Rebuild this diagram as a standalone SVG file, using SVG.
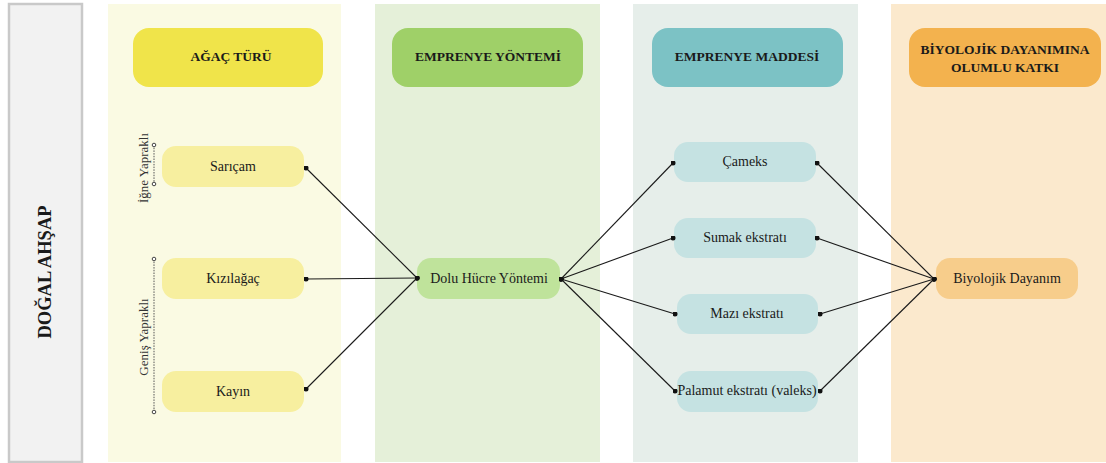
<svg xmlns="http://www.w3.org/2000/svg" width="1106" height="463" viewBox="0 0 1106 463">
  <style>
    .hdr { font-family: "Liberation Serif", "Times New Roman", "DejaVu Serif", serif; font-weight: bold; font-size: 13.5px; fill: #1a1a1a; text-anchor: middle; }
    .lbl { font-family: "Liberation Serif", "Times New Roman", "DejaVu Serif", serif; font-size: 14px; fill: #1a1a1a; text-anchor: middle; }
    .side { font-family: "Liberation Serif", "Times New Roman", "DejaVu Serif", serif; font-size: 13px; fill: #333; text-anchor: middle; }
    .link { fill: none; stroke: #1a1a1a; stroke-width: 1.1; marker-start: url(#dot); marker-end: url(#dot); }
    .brace { stroke: #555; stroke-width: 1; stroke-dasharray: 1.5 1.2; }
    .cap { fill: #fff; stroke: #444; stroke-width: 1; }
  </style>
  <defs>
    <marker id="dot" viewBox="0 0 6 6" refX="3" refY="3" markerWidth="5" markerHeight="5" markerUnits="userSpaceOnUse">
      <circle cx="3" cy="3" r="3" fill="#111"/>
    </marker>
  </defs>

  <rect width="1106" height="463" fill="#ffffff"/>

  <!-- outer label column -->
  <g id="dogal-ahsap">
    <rect x="9" y="4" width="73" height="458" fill="#f2f2f2" stroke="#c9c9c9" stroke-width="2.5"/>
    <text class="hdr" style="font-size:18.5px" transform="translate(51,272) rotate(-90)">DOĞAL AHŞAP</text>
  </g>

  <!-- lane backgrounds -->
  <g id="lanes">
    <rect x="108" y="4" width="233" height="458" fill="#fafae3"/>
    <rect x="375" y="4" width="225" height="458" fill="#e5f0d9"/>
    <rect x="633" y="4" width="225" height="458" fill="#e6eeea"/>
    <rect x="891" y="4" width="215" height="458" fill="#fbe9cd"/>
  </g>

  <!-- lane headers -->
  <g id="h-agac-turu">
    <rect x="133" y="28" width="190" height="59" rx="16" fill="#f0e44a"/>
    <text class="hdr" x="231" y="61">AĞAÇ TÜRÜ</text>
  </g>
  <g id="h-emprenye-yontemi">
    <rect x="392" y="28" width="191" height="59" rx="16" fill="#9fd068"/>
    <text class="hdr" x="488" y="61">EMPRENYE YÖNTEMİ</text>
  </g>
  <g id="h-emprenye-maddesi">
    <rect x="652" y="28" width="191" height="59" rx="16" fill="#7cc2c5"/>
    <text class="hdr" x="747" y="61">EMPRENYE MADDESİ</text>
  </g>
  <g id="h-biyolojik">
    <rect x="909" y="28" width="192" height="59" rx="16" fill="#f3b24e"/>
    <text class="hdr" x="1005" y="54">BİYOLOJİK DAYANIMINA</text>
    <text class="hdr" x="1005" y="72">OLUMLU KATKI</text>
  </g>

  <!-- grouping brackets -->
  <g id="igne-yaprakli">
    <line class="brace" x1="154" y1="145" x2="154" y2="184"/>
    <circle class="cap" cx="154" cy="145" r="1.8"/>
    <circle class="cap" cx="154" cy="184" r="1.8"/>
    <text class="side" transform="translate(147.5,168) rotate(-90)">İğne Yapraklı</text>
  </g>
  <g id="genis-yaprakli">
    <line class="brace" x1="154" y1="259" x2="154" y2="412"/>
    <circle class="cap" cx="154" cy="259" r="1.8"/>
    <circle class="cap" cx="154" cy="412" r="1.8"/>
    <text class="side" transform="translate(147.5,337) rotate(-90)">Geniş Yapraklı</text>
  </g>

  <!-- tree species -->
  <g id="saricam">
    <rect x="162" y="146" width="142" height="41" rx="14" fill="#f7ef9f"/>
    <text class="lbl" x="233" y="171">Sarıçam</text>
  </g>
  <g id="kizilagac">
    <rect x="162" y="258" width="142" height="41" rx="14" fill="#f7ef9f"/>
    <text class="lbl" x="233" y="283">Kızılağaç</text>
  </g>
  <g id="kayin">
    <rect x="162" y="371" width="142" height="41" rx="14" fill="#f7ef9f"/>
    <text class="lbl" x="233" y="396">Kayın</text>
  </g>

  <!-- method -->
  <g id="dolu-hucre">
    <rect x="417" y="258" width="143" height="41" rx="14" fill="#bfe39b"/>
    <text class="lbl" x="489" y="283">Dolu Hücre Yöntemi</text>
  </g>

  <!-- substances -->
  <g id="cameks">
    <rect x="674" y="142" width="142" height="40" rx="14" fill="#c5e2e2"/>
    <text class="lbl" x="745" y="166">Çameks</text>
  </g>
  <g id="sumak">
    <rect x="674" y="218" width="142" height="40" rx="14" fill="#c5e2e2"/>
    <text class="lbl" x="745" y="242">Sumak ekstratı</text>
  </g>
  <g id="mazi">
    <rect x="677" y="294" width="141" height="40" rx="14" fill="#c5e2e2"/>
    <text class="lbl" x="747" y="318">Mazı ekstratı</text>
  </g>
  <g id="palamut">
    <rect x="677" y="371" width="141" height="41" rx="14" fill="#c5e2e2"/>
    <text class="lbl" x="747" y="395">Palamut ekstratı (valeks)</text>
  </g>

  <!-- outcome -->
  <g id="biyolojik-dayanim">
    <rect x="936" y="258" width="142" height="41" rx="14" fill="#f7cd8b"/>
    <text class="lbl" x="1007" y="283">Biyolojik Dayanım</text>
  </g>

  <!-- connectors -->
  <g id="connectors">
    <line class="link" x1="306" y1="168" x2="417" y2="278"/>
    <line class="link" x1="306" y1="279" x2="417" y2="278"/>
    <line class="link" x1="306" y1="389" x2="417" y2="278"/>

    <line class="link" x1="561" y1="279" x2="673" y2="163"/>
    <line class="link" x1="561" y1="279" x2="673" y2="238"/>
    <line class="link" x1="561" y1="279" x2="675" y2="314"/>
    <line class="link" x1="561" y1="279" x2="675" y2="391"/>

    <line class="link" x1="817" y1="163" x2="934" y2="279"/>
    <line class="link" x1="817" y1="238" x2="934" y2="279"/>
    <line class="link" x1="820" y1="314" x2="934" y2="279"/>
    <line class="link" x1="820" y1="391" x2="934" y2="279"/>
  </g>
</svg>
